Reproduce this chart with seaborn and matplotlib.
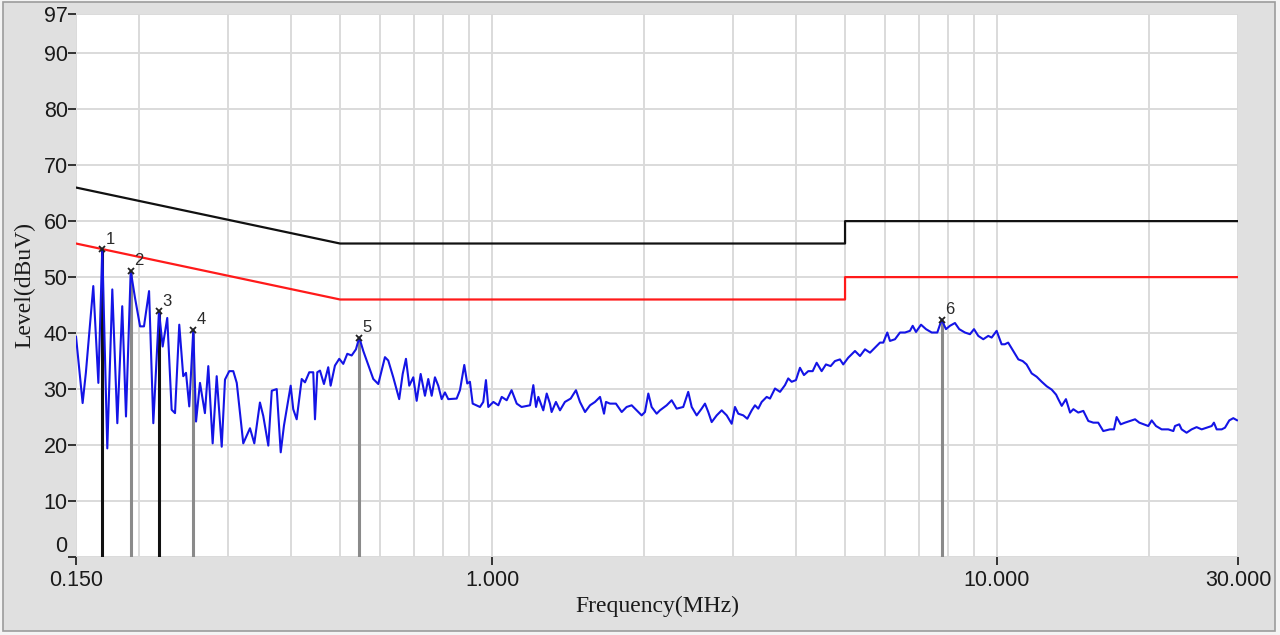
import matplotlib
matplotlib.use("Agg")
import matplotlib.pyplot as plt
import seaborn as sns
import pandas as pd
from matplotlib.patches import Rectangle
from matplotlib.ticker import NullFormatter, LogLocator, FixedLocator

# ---------------- data ----------------
freq_mhz = [
    0.1500, 0.1546, 0.1569, 0.1623, 0.1661, 0.1691, 0.1730, 0.1770, 0.1811, 0.1852,
    0.1884, 0.1925, 0.1963, 0.2009, 0.2045, 0.2093, 0.2134, 0.2190, 0.2227, 0.2274,
    0.2320, 0.2356, 0.2402, 0.2446, 0.2477, 0.2514, 0.2561, 0.2593, 0.2640, 0.2700,
    0.2742, 0.2797, 0.2849, 0.2915, 0.2959, 0.3017, 0.3073, 0.3122, 0.3216, 0.3316,
    0.3382, 0.3470,
    0.3523, 0.3605, 0.3662, 0.3746, 0.3815, 0.3872, 0.3992, 0.4039, 0.4103, 0.4198,
    0.4261, 0.4345, 0.4425, 0.4460, 0.4507, 0.4563, 0.4646, 0.4738, 0.4790, 0.4885,
    0.4982, 0.5074, 0.5168, 0.5272, 0.5376, 0.5458, 0.5559, 0.5661, 0.5818, 0.5952,
    0.6136, 0.6229, 0.6373, 0.6548, 0.6653, 0.6753, 0.6855, 0.6982, 0.7091, 0.7221,
    0.7364, 0.7476, 0.7593, 0.7707, 0.7825, 0.7947, 0.8066, 0.8190,
    0.8509, 0.8638, 0.8810, 0.8930, 0.9040, 0.9154, 0.9462, 0.9607, 0.9725, 0.9829,
    1.006, 1.029, 1.045, 1.069, 1.093, 1.119, 1.144, 1.189, 1.207, 1.222,
    1.235, 1.263, 1.283, 1.302, 1.312, 1.338, 1.363, 1.394, 1.431, 1.466,
    1.493, 1.528, 1.563, 1.599, 1.636, 1.666, 1.681, 1.712, 1.759, 1.806,
    1.847, 1.890, 1.933, 1.978, 2.008, 2.039, 2.070, 2.118,
    2.150, 2.217, 2.268, 2.320, 2.391, 2.446, 2.485, 2.542, 2.600, 2.640,
    2.680, 2.722, 2.785, 2.849, 2.915, 2.982, 3.027, 3.073, 3.144, 3.202,
    3.267, 3.316, 3.366, 3.419, 3.498, 3.551, 3.633, 3.717, 3.802, 3.859,
    3.920, 3.997, 4.071, 4.146, 4.228, 4.314, 4.393, 4.494, 4.583, 4.682,
    4.775, 4.885, 4.959, 5.073,
    5.232, 5.353, 5.476, 5.603, 5.732, 5.864, 5.953, 6.062, 6.137, 6.279,
    6.423, 6.571, 6.723, 6.807, 6.910, 7.070, 7.233, 7.423, 7.615, 7.768,
    7.921, 8.067, 8.253, 8.416, 8.638, 8.838, 9.002, 9.179, 9.391, 9.607,
    9.757, 9.980, 10.21, 10.36, 10.52, 10.77, 11.02, 11.24, 11.44, 11.71,
    11.98, 12.26,
    12.54, 12.83, 13.09, 13.22, 13.43, 13.69, 13.95, 14.16, 14.48, 14.82,
    15.16, 15.51, 15.86, 16.23, 16.73, 17.04, 17.25, 17.57, 17.92, 18.33,
    18.76, 19.13, 19.54, 19.93, 20.24, 20.64, 21.18, 21.83, 22.34, 22.51,
    22.95, 23.20, 23.73, 24.28, 24.84, 25.42, 26.00, 26.61, 26.88, 27.22,
    27.85, 28.27, 28.83, 29.36, 29.90,
]
level_dbuv = [
    39.4, 27.5, 32.9, 48.4, 31.1, 55.0, 19.4, 47.8, 23.9, 44.8,
    25.1, 51.1, 46.3, 41.2, 41.2, 47.5, 23.9, 43.9, 37.6, 42.7,
    26.3, 25.7, 41.5, 32.3, 32.9, 26.9, 40.6, 24.2, 31.1, 25.7,
    34.1, 20.3, 32.3, 19.7, 31.7, 33.2, 33.2, 31.1, 20.3, 23.0,
    20.3, 27.6,
    25.2, 19.9, 29.7, 30.0, 18.7, 23.5, 30.6, 26.4, 24.6, 31.8,
    31.2, 33.0, 33.0, 24.6, 33.0, 33.3, 30.9, 33.9, 30.6, 34.2,
    35.4, 34.5, 36.3, 36.0, 37.1, 39.2, 36.8, 34.8, 31.8, 30.9,
    35.7, 35.1, 32.1, 28.2, 32.7, 35.4, 30.6, 32.1, 27.9, 32.7,
    28.8, 31.8, 28.8, 32.1, 30.6, 28.2, 29.4, 28.2,
    28.3, 29.8, 34.3, 31.0, 31.3, 27.4, 26.8, 27.7, 31.6, 26.8,
    27.7, 27.1, 28.6, 28.0, 29.8, 27.4, 26.8, 27.1, 30.7, 26.8,
    28.6, 26.2, 29.2, 27.4, 25.9, 27.7, 26.2, 27.7, 28.3, 29.8,
    27.7, 25.9, 27.1, 27.7, 28.6, 25.6, 27.7, 27.4, 27.4, 25.9,
    26.8, 27.1, 26.2, 25.3, 25.9, 29.2, 26.8, 25.6,
    26.2, 27.1, 28.0, 26.5, 26.8, 29.5, 26.8, 25.3, 26.5, 27.4,
    25.9, 24.1, 25.3, 26.2, 25.3, 23.8, 26.8, 25.6, 25.3, 24.7,
    26.2, 27.1, 26.5, 27.7, 28.6, 28.3, 30.1, 29.5, 30.7, 31.9,
    31.3, 31.6, 33.8, 32.5, 33.2, 33.2, 34.7, 33.2, 34.4, 34.1,
    35.0, 35.3, 34.4, 35.6,
    36.8, 35.9, 37.1, 36.5, 37.4, 38.3, 38.3, 40.1, 38.6, 38.9,
    40.1, 40.1, 40.4, 41.3, 40.2, 41.5, 40.7, 40.1, 40.1, 42.4,
    40.7, 41.3, 41.8, 40.7, 40.1, 39.8, 40.7, 39.5, 38.9, 39.5,
    39.2, 40.4, 38.0, 38.0, 38.3, 36.8, 35.3, 35.0, 34.4, 32.8,
    32.2, 31.3,
    30.5, 29.9, 29.0, 28.2, 27.0, 28.2, 25.8, 26.4, 25.8, 26.1,
    24.3, 24.0, 24.0, 22.5, 22.8, 22.8, 25.0, 23.7, 24.0, 24.3,
    24.6, 24.0, 23.7, 23.4, 24.4, 23.4, 22.8, 22.8, 22.5, 23.4,
    23.7, 22.8, 22.2, 22.8, 23.2, 22.8, 23.1, 23.4, 24.0, 22.8,
    22.8, 23.1, 24.4, 24.8, 24.4,
]

# limit lines (class B conducted): quasi-peak (black) and average (red)
limit_freq = [0.15, 0.5, 5.0, 5.0, 30.0]
qp_limit = [66, 56, 56, 60, 60]
av_limit = [56, 46, 46, 50, 50]

# peak markers
marker_ids = ["1", "2", "3", "4", "5", "6"]
marker_freq = [0.1691, 0.1925, 0.2190, 0.2561, 0.5458, 7.768]
marker_level = [55.0, 51.1, 43.9, 40.6, 39.2, 42.4]
marker_colors = ["#111111", "#8a8a8a", "#111111", "#8a8a8a", "#8a8a8a", "#8a8a8a"]

y_ticks = [0, 10, 20, 30, 40, 50, 60, 70, 80, 90, 97]
x_ticks = [0.15, 1.0, 10.0, 30.0]
x_ticklabels = ["0.150", "1.000", "10.000", "30.000"]

# ---------------- plot ----------------
sns.set_theme(style="white")
plt.rcParams["font.family"] = ["Liberation Sans", "DejaVu Sans"]

fig = plt.figure(figsize=(12.8, 6.35), dpi=100)
fig.patch.set_facecolor("#f4f4f4")
fig.patches.append(Rectangle((0.002, 0.006), 0.994, 0.991, transform=fig.transFigure,
                             facecolor="#e0e0e0", edgecolor="#9c9c9c", lw=1.2, zorder=-10))
ax = fig.add_axes([76 / 1280, 1 - 557 / 635, (1238 - 76) / 1280, (557 - 14) / 635])
ax.set_facecolor("white")

trace_df = pd.DataFrame({"freq": freq_mhz, "level": level_dbuv})
lim_df = pd.DataFrame({"freq": limit_freq, "qp": qp_limit, "av": av_limit})

ax.set_xscale("log")

# marker drop lines
for f, lv, c in zip(marker_freq, marker_level, marker_colors):
    ax.vlines(f, 0, lv, color=c, lw=2.2, zorder=2)

sns.lineplot(data=lim_df, x="freq", y="qp", ax=ax, color="#111111", lw=1.6,
             sort=False, estimator=None, zorder=3)
sns.lineplot(data=lim_df, x="freq", y="av", ax=ax, color="#ff1a1a", lw=1.6,
             sort=False, estimator=None, zorder=3)
sns.lineplot(data=trace_df, x="freq", y="level", ax=ax, color="#1414e6", lw=1.5,
             sort=False, estimator=None, zorder=4)

ax.plot(marker_freq, marker_level, linestyle="none", marker="x", color="#222222",
        markersize=5, mew=1.3, zorder=6)
for mid, f, lv in zip(marker_ids, marker_freq, marker_level):
    ax.annotate(mid, (f, lv), xytext=(2.5, 4), textcoords="offset points",
                fontsize=12, color="#2a2a2a", zorder=7)

ax.set_xlim(0.15, 30)
ax.set_ylim(0, 97)

ax.xaxis.set_major_locator(FixedLocator(x_ticks))
ax.set_xticklabels(x_ticklabels)
ax.xaxis.set_minor_locator(LogLocator(base=10, subs=range(2, 10), numticks=20))
ax.xaxis.set_minor_formatter(NullFormatter())
ax.set_yticks(y_ticks)

ax.grid(True, which="major", color="#dadada", lw=1.4, zorder=0)
ax.grid(True, which="minor", axis="x", color="#dadada", lw=1.4, zorder=0)
ax.set_axisbelow(True)

for s in ax.spines.values():
    s.set_visible(False)

ax.tick_params(axis="y", which="major", direction="out", length=6, width=1.4,
               color="#333333", labelsize=15.5, pad=0, labelcolor="#1a1a1a", left=True)
ax.tick_params(axis="x", which="major", direction="out", length=6, width=1.4,
               color="#333333", labelsize=15.5, pad=3, labelcolor="#1a1a1a", bottom=True)
ax.tick_params(axis="x", which="minor", length=0)
# keep the lowest y label clear of the first frequency label
ax.get_yticklabels()[0].set_va("bottom")

ax.set_xlabel("Frequency(MHz)", family=["Liberation Serif", "DejaVu Serif"],
              fontsize=17, color="#1a1a1a", labelpad=4)
ax.set_ylabel("Level(dBuV)", family=["Liberation Serif", "DejaVu Serif"],
              fontsize=17, color="#1a1a1a", labelpad=6)

fig.savefig("out.png", dpi=100, facecolor=fig.get_facecolor())
